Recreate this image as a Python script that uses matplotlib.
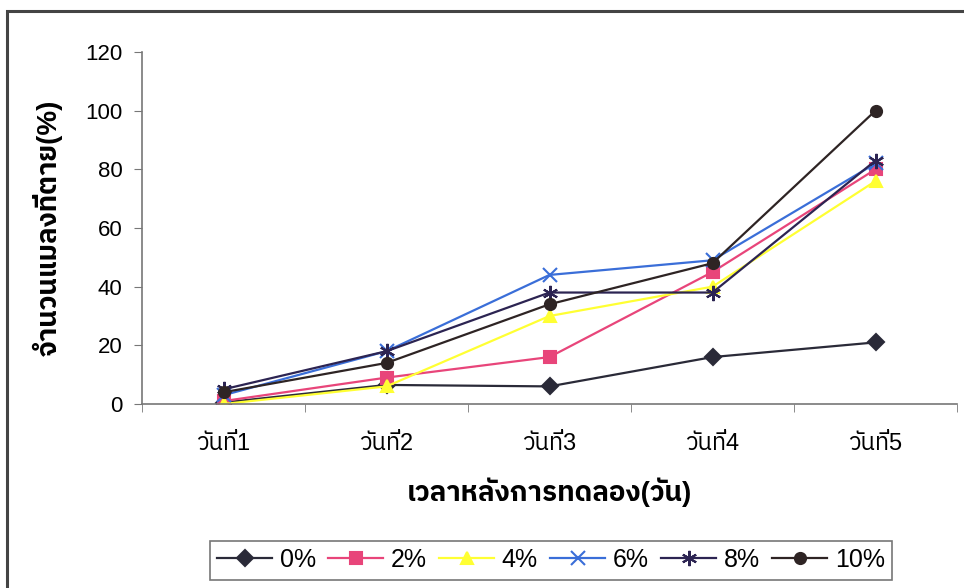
import numpy as np
import matplotlib.pyplot as plt
from matplotlib.patches import Rectangle

plt.rcParams['font.family'] = ['Liberation Sans', 'IBM Plex Sans Thai', 'Noto Sans Thai', 'DejaVu Sans']

days = ['วันที่1', 'วันที่2', 'วันที่3', 'วันที่4', 'วันที่5']
labels = ['0%', '2%', '4%', '6%', '8%', '10%']

v0 = [0.5, 6.5, 6, 16, 21]
v2 = [1, 9, 16, 45, 80]
v4 = [0, 6, 30, 40, 76]
v6 = [3, 18, 44, 49, 82]
v8 = [5, 18, 38, 38, 83]
v10 = [4, 14, 34, 48, 100]

series = [v0, v2, v4, v6, v8, v10]
colors = ['#2a2a38', '#e8457a', '#ffff33', '#3a6ed8', '#2c2452', '#2e2424']
markers = ['D', 's', '^', 'x', (6, 2, 0), 'o']
msizes = [8, 8, 9, 10, 11, 8]

fig = plt.figure(figsize=(9.64, 5.88), dpi=100)
fig.patches.append(Rectangle((7/964, -0.1), 1.2, 1 - 11/588 + 0.1,
                             transform=fig.transFigure, fill=False,
                             edgecolor='#444444', linewidth=2.2))

ax = fig.add_axes([142/964, 1 - 404/588, 815/964, 352/588])
x = np.arange(len(days))
for vals, lab, c, m, ms in zip(series, labels, colors, markers, msizes):
    ax.plot(x, vals, color=c, marker=m, markersize=ms, linewidth=1.6,
            markeredgewidth=1.5, markerfacecolor=c, markeredgecolor=c, label=lab)

ax.set_xlim(-0.5, 4.5)
ax.set_ylim(0, 120)
ax.set_yticks(range(0, 121, 20))
ax.set_xticks(x)
ax.set_xticklabels(days)
ax.set_xticks(np.arange(-0.5, 5, 1), minor=True)
ax.tick_params(axis='x', which='major', length=0, pad=21, labelsize=17)
ax.tick_params(axis='x', which='minor', length=6, direction='out', color='#777777')
ax.tick_params(axis='y', length=6, direction='out', color='#777777', labelsize=16, pad=8)
for s in ['top', 'right']:
    ax.spines[s].set_visible(False)
for s in ['left', 'bottom']:
    ax.spines[s].set_color('#777777')
    ax.spines[s].set_linewidth(1.2)

thai_bold = ['Liberation Sans', 'IBM Plex Sans Thai', 'DejaVu Sans']
ax.set_xlabel('เวลาหลังการทดลอง(วัน)', fontsize=20, fontweight='bold',
              family=thai_bold, labelpad=16)
ax.set_ylabel('จำนวนแมลงที่ตาย(%)', fontsize=20, fontweight='bold',
              family=thai_bold, labelpad=16)

leg = fig.legend(loc='center', bbox_to_anchor=(551/964, 1 - 560/588), ncol=6,
                 fontsize=18, frameon=True, fancybox=False, handlelength=2.2,
                 columnspacing=0.5, handletextpad=0.3, borderpad=0.3)
leg.get_frame().set_edgecolor('#555555')
leg.get_frame().set_linewidth(1.2)

fig.savefig('out.png', dpi=100)
